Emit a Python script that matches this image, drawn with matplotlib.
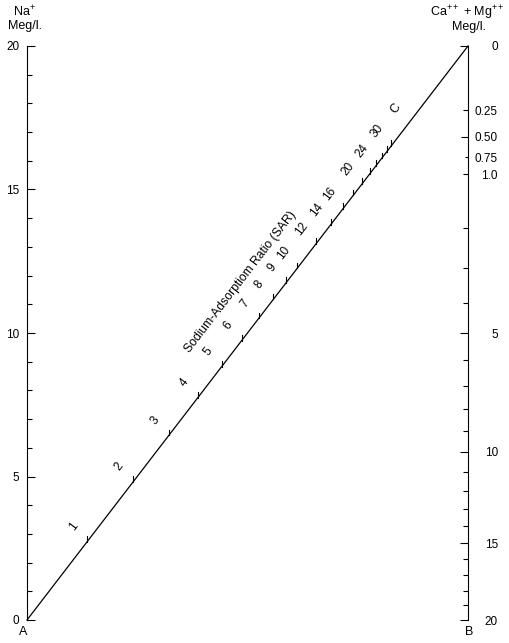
import numpy as np
import matplotlib
matplotlib.use("Agg")
import matplotlib.pyplot as plt

plt.rcParams['font.family'] = ['Liberation Sans', 'DejaVu Sans']
plt.rcParams['mathtext.fontset'] = 'custom'
plt.rcParams['mathtext.rm'] = 'Liberation Sans'
plt.rcParams['mathtext.it'] = 'Liberation Sans:italic'

# --- data ---
na_major = [0, 5, 10, 15, 20]
na_minor = list(range(0, 21))

camg_major = [0, 0.25, 0.5, 0.75, 1.0, 5, 10, 15, 20]
camg_major_labels = ['0', '0.25', '0.50', '0.75', '1.0', '5', '10', '15', '20']
camg_minor = [2, 3, 4, 6, 7, 8, 9, 11, 12, 13, 14, 16, 17, 18, 19]

sar_ticks = [1, 2, 3, 4, 5, 6, 7, 8, 9, 10, 12, 14, 16, 18, 20, 22, 24, 26, 28, 30]
sar_labels = [1, 2, 3, 4, 5, 6, 7, 8, 9, 10, 12, 14, 16, 20, 24, 30]

W, H = 509, 643
fig = plt.figure(figsize=(W / 100, H / 100), dpi=100)
ax = fig.add_axes([27 / W, 23 / H, 441 / W, 574 / H])

# left axis: Na+ (linear)
ax.set_xlim(0, 1)
ax.set_ylim(na_major[0], na_major[-1])
ax.set_xticks([])
ax.set_yticks(na_major)
ax.set_yticks(na_minor, minor=True)
ax.tick_params(axis='y', which='major', direction='in', length=5.8, width=0.8, pad=5.5, labelsize=8.5)
ax.tick_params(axis='y', which='minor', direction='in', length=3.6, width=0.8)
for s in ['top', 'bottom', 'right']:
    ax.spines[s].set_visible(False)
ax.spines['left'].set_linewidth(0.8)


# right axis: Ca++ + Mg++ ; position goes with sqrt(x/2)
def fwd(v):
    return np.sqrt(np.maximum(v, 0) / 2.0)


def inv(s):
    return 2.0 * np.asarray(s) ** 2


ax2 = ax.twinx()
ax2.set_yscale('function', functions=(fwd, inv))
ax2.set_ylim(camg_major[-1], camg_major[0])
ax2.set_yticks(camg_major)
ax2.set_yticklabels(camg_major_labels)
ax2.set_yticks(camg_minor, minor=True)
ax2.yaxis.set_minor_formatter(matplotlib.ticker.NullFormatter())
ax2.tick_params(axis='y', which='major', direction='in', length=5.8, width=0.8, pad=21.5, labelsize=8.5)
ax2.tick_params(axis='y', which='minor', direction='in', length=3.6, width=0.8)
for lbl in ax2.get_yticklabels():
    lbl.set_horizontalalignment('right')
for s in ['top', 'bottom', 'left']:
    ax2.spines[s].set_visible(False)
ax2.spines['right'].set_linewidth(0.8)

# tick lengths that differ on the original
for tk, val in zip(ax2.yaxis.get_major_ticks(), camg_major):
    if val in (0.25, 1.0):
        tk.tick2line.set_markersize(3.8)
    elif val == 0.75:
        tk.tick2line.set_markersize(2.4)
    elif val == 0.5:
        tk.tick2line.set_markersize(5.0)

# diagonal A -> top of right axis (Ca+Mg = 0)
to_ax = ax.transData.inverted()
x_end, y_end = to_ax.transform(ax2.transData.transform((1, camg_major[0])))
ax.plot([0, x_end], [na_major[0], y_end], color='black', lw=0.9, clip_on=False)


# SAR position on the diagonal: line from Na = SAR (left) to Ca+Mg = 2 (right)
def sar_pos(z):
    _, yq = to_ax.transform(ax2.transData.transform((1, 2.0)))
    t = z / (y_end - yq + z)
    return t * x_end, t * y_end


p0 = ax.transData.transform((0, 0))
p1 = ax.transData.transform((x_end, y_end))
theta = np.arctan2(p1[1] - p0[1], p1[0] - p0[0])
ang = np.degrees(theta)
nx, ny = -np.sin(theta), np.cos(theta)
ux, uy = np.cos(theta), np.sin(theta)

tick_len = 0.2
for z in sar_ticks:
    x, y = sar_pos(z)
    ax.plot([x, x], [y, y + tick_len], color='black', lw=0.8, clip_on=False)

perp, along = 14.5, 2.5
for z in sar_labels:
    x, y = sar_pos(z)
    ax.annotate(str(z), xy=(x, y), xytext=(nx * perp + ux * along, ny * perp + uy * along),
                textcoords='offset points', rotation=ang, rotation_mode='anchor',
                ha='center', va='center', fontsize=8.5)

# scale title and C along the diagonal
ax.annotate('Sodium-Adsorptiom Ratio (SAR)', xy=(0.55 * x_end, 0.55 * y_end),
            xytext=(nx * 26, ny * 26), textcoords='offset points',
            rotation=ang, rotation_mode='anchor', ha='center', va='center', fontsize=8.7)
ax.annotate('C', xy=(0.871 * x_end, 0.871 * y_end),
            xytext=(nx * 14, ny * 14), textcoords='offset points',
            rotation=ang, rotation_mode='anchor', ha='center', va='center', fontsize=9)

# headers and corner letters
fig.text(24 / W, 1 - 12 / H, 'Na$^{+}$', ha='center', va='center', fontsize=9)
fig.text(25 / W, 1 - 26 / H, 'Meg/l.', ha='center', va='center', fontsize=9)
fig.text(467 / W, 1 - 13 / H, 'Ca$^{++}$ + Mg$^{++}$', ha='center', va='center', fontsize=9)
fig.text(469 / W, 1 - 27 / H, 'Meg/l.', ha='center', va='center', fontsize=9)
fig.text(23.5 / W, 1 - 632 / H, 'A', ha='center', va='center', fontsize=9)
fig.text(469 / W, 1 - 632 / H, 'B', ha='center', va='center', fontsize=9)

fig.savefig('out.png', dpi=100)
